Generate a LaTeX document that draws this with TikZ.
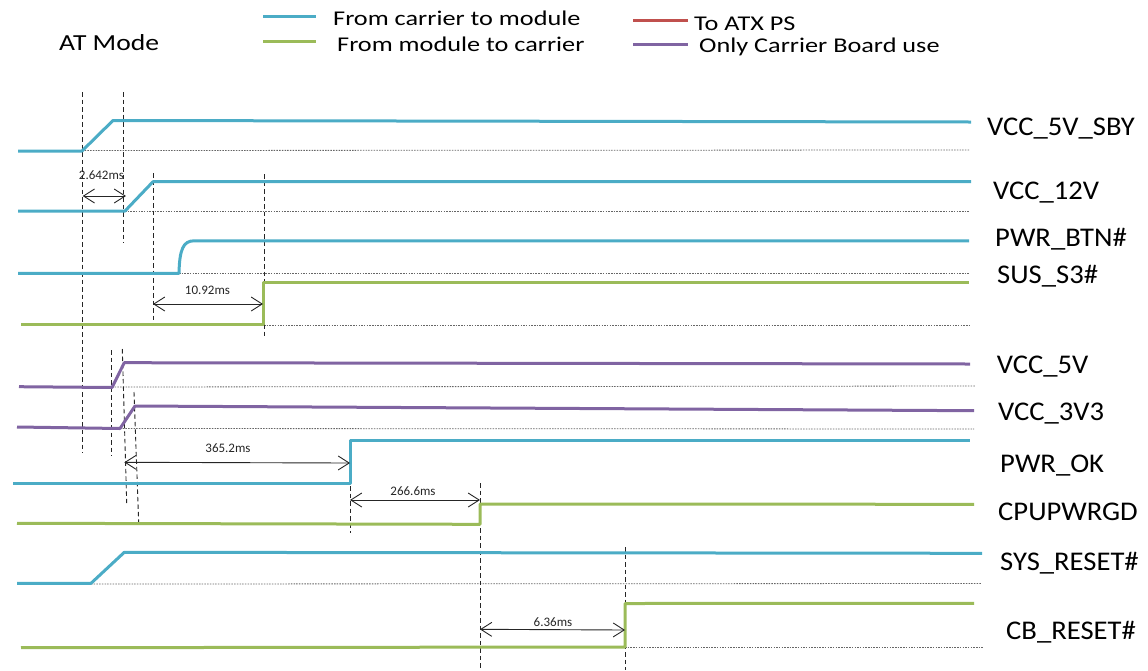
\documentclass[tikz,border=0pt]{standalone}
\usepackage{fontspec}
\usepackage{graphicx}
\setmainfont{Carlito}
\usetikzlibrary{arrows.meta}
\definecolor{cblue}{HTML}{4BACC6}
\definecolor{cgreen}{HTML}{9BBB59}
\definecolor{cred}{HTML}{C0504D}
\definecolor{cpurple}{HTML}{8064A2}
\tikzset{
  sig/.style={line width=3pt, line join=round},
  baseln/.style={draw=black!60, line width=0.8pt, dash pattern=on 1.5pt off 1.2pt},
  guide/.style={draw=black!85, line width=0.9pt, dash pattern=on 4.5pt off 3pt},
  meas/.style={draw=black!85, line width=0.9pt, {Straight Barb[length=11pt,width=14pt]}-{Straight Barb[length=11pt,width=14pt]}},
  sname/.style={anchor=base west, inner sep=0pt, font=\fontsize{27}{30}\selectfont},
  tlabel/.style={inner sep=0pt, font=\fontsize{13}{15}\selectfont, text=black!85},
  leg/.style={anchor=base west, inner sep=0pt, font=\fontsize{21}{24}\selectfont},
}
\begin{document}
\begin{tikzpicture}[x=1pt,y=-1pt]
\useasboundingbox (0,0) rectangle (1148,670);

% ---------- legend ----------
\draw[sig, cblue]   (263,16) -- (316,16);
\draw[sig, cgreen]  (263,41) -- (316,41);
\draw[sig, cred]    (633,20) -- (688,20);
\draw[sig, cpurple] (633,44) -- (688,44);
\node[leg] (l1) at (333,25) {\scalebox{1.25}[1]{From carrier to module}};
\node[leg] (l2) at (337,51.5) {\scalebox{1.25}[1]{From module to carrier}};
\node[leg] (l3) at (694,30) {\scalebox{1.25}[1]{To ATX PS}};
\node[leg] (l4) at (699,52.5) {\scalebox{1.25}[1]{Only Carrier Board use}};
\node[anchor=base west, inner sep=0pt, font=\fontsize{23}{26}\selectfont] (atm) at (59,50) {\scalebox{1.2}[1]{AT Mode}};

% ---------- baselines (dotted) ----------
\draw[baseln] (82,150.5) -- (970,150);
\draw[baseln] (125,211) -- (970,211);
\draw[baseln] (179,273.3) -- (970,273.3);
\draw[baseln] (264,325) -- (970,325);
\draw[baseln] (112,387) -- (975,386);
\draw[baseln] (120,428.5) -- (974,429);
\draw[baseln] (91,584) -- (982,583.5);
\draw[baseln] (625,647.5) -- (983,647.5);

% ---------- guide lines (dashed) ----------
\draw[guide] (82,92) -- (82,453);
\draw[guide] (123,92) -- (123,243);
\draw[guide] (153,173) -- (153,325);
\draw[guide] (264,174) -- (264,337);
\draw[guide] (111,350) -- (111,456);
\draw[guide] (122.3,349) -- (126.7,503);
\draw[guide] (134,392) -- (138.7,523);
\draw[guide] (350,441) -- (350,533);
\draw[guide] (480,483) -- (480,670);
\draw[guide] (625,547) -- (625,670);

% ---------- signals ----------
% VCC_5V_SBY
\draw[sig, cblue] (18,151) -- (82,151) -- (113,120.5) -- (971,122);
% VCC_12V
\draw[sig, cblue] (18,211) -- (125,211) -- (153,181.7) -- (971,181.7);
% PWR_BTN#
\draw[sig, cblue] (18,273.3) -- (179,273.3) .. controls (179.5,250) and (183,240.8) .. (194,240.8) -- (969,240.8);
% SUS_S3#
\draw[sig, cgreen] (21,324.5) -- (263.5,324.5) -- (263.5,282.5) -- (969,282.5);
% VCC_5V
\draw[sig, cpurple] (19,386.7) -- (112,387.5) -- (124.3,362.7) -- (970,364);
% VCC_3V3
\draw[sig, cpurple] (17,427) -- (120,428.5) -- (135,406) -- (974,410.7);
% PWR_OK
\draw[sig, cblue] (13,483.3) -- (350,483.3) -- (350,440.7) -- (970,440.7);
% CPUPWRGD
\draw[sig, cgreen] (17,523.3) -- (480,524.3) -- (480,504) -- (974,504.3);
% SYS_RESET#
\draw[sig, cblue] (17,583.3) -- (91,583.3) -- (124.3,552.3) -- (982,553.3);
% CB_RESET#
\draw[sig, cgreen] (21,647.7) -- (625,647) -- (625,603.5) -- (974,603.3);

% ---------- measurement arrows ----------
\coordinate (m1a) at (82.7,196);  \coordinate (m1b) at (126,196);
\coordinate (m2a) at (153,304);   \coordinate (m2b) at (263,304);
\coordinate (m3a) at (124.3,462.3); \coordinate (m3b) at (350,463);
\coordinate (m4a) at (350,500);   \coordinate (m4b) at (480,500);
\coordinate (m5a) at (480,629.3); \coordinate (m5b) at (625,630);
\draw[meas] (m1a) -- (m1b);
\draw[meas] (m2a) -- (m2b);
\draw[meas] (m3a) -- (m3b);
\draw[meas] (m4a) -- (m4b);
\draw[meas] (m5a) -- (m5b);
\node[tlabel] (t1) at (101.5,175) {2.642ms};
\node[tlabel] (t2) at (207.5,290.5) {10.92ms};
\node[tlabel] (t3) at (228,448) {365.2ms};
\node[tlabel] (t4) at (413,491) {266.6ms};
\node[tlabel] (t5) at (553,622.5) {6.36ms};

% ---------- signal names ----------
\node[sname] (s1) at (987,135) {\scalebox{1.06}[1]{VCC\_5V\_SBY}};
\node[sname] (s2) at (993,199) {\scalebox{1.06}[1]{VCC\_12V}};
\node[sname] (s3) at (995,246.7) {\scalebox{1.06}[1]{PWR\_BTN\#}};
\node[sname] (s4) at (997,283.3) {\scalebox{1.06}[1]{SUS\_S3\#}};
\node[sname] (s5) at (996.7,373.3) {\scalebox{1.06}[1]{VCC\_5V}};
\node[sname] (s6) at (998,420.7) {\scalebox{1.06}[1]{VCC\_3V3}};
\node[sname] (s7) at (1000,472.7) {\scalebox{1.06}[1]{PWR\_OK}};
\node[sname] (s8) at (998,520) {\scalebox{1.06}[1]{CPUPWRGD}};
\node[sname] (s9) at (1000,570) {\scalebox{1.06}[1]{SYS\_RESET\#}};
\node[sname] (s10) at (1006,639.3) {\scalebox{1.06}[1]{CB\_RESET\#}};
\end{tikzpicture}
\end{document}
